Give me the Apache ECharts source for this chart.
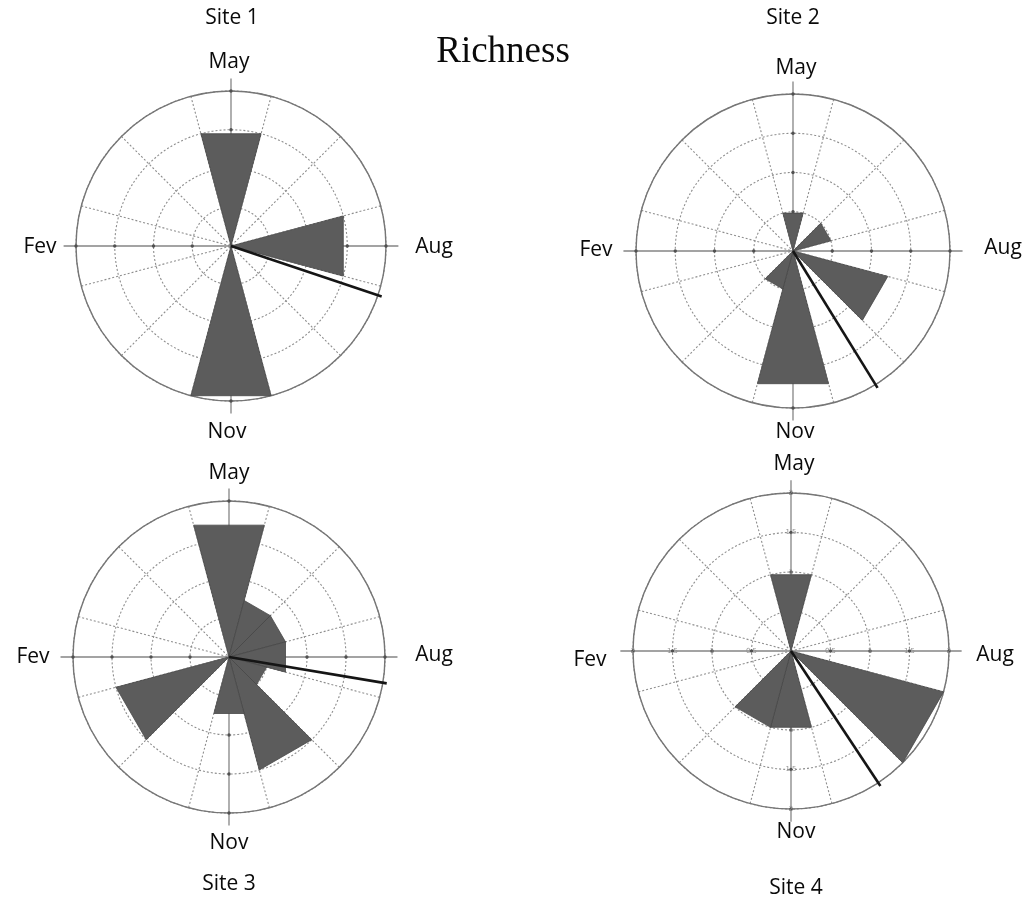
<!DOCTYPE html>
<html>
<head>
<meta charset="utf-8">
<title>Richness</title>
<script src="https://cdn.jsdelivr.net/npm/echarts@6/dist/echarts.min.js"></script>
<style>
  html, body { margin: 0; padding: 0; background: #fff; }
  #chart { width: 1024px; height: 902px; }
</style>
</head>
<body>
<div id="chart"></div>
<script>
// Monthly richness per site, months ordered clockwise starting at May (top)
const months = ['May', 'Jun', 'Jul', 'Aug', 'Sep', 'Oct', 'Nov', 'Dec', 'Jan', 'Fev', 'Mar', 'Apr'];
const site1 = [3, 0, 0, 3, 0, 0, 4, 0, 0, 0, 0, 0];
const site2 = [1, 0, 1, 0, 2.5, 0, 3.5, 1, 0, 0, 0, 0];
const site3 = [3.5, 1.5, 1.5, 1.5, 1, 3, 1.5, 0, 3, 0, 0, 0];
const site4 = [1, 0, 0, 0, 2, 0, 1, 1, 0, 0, 0, 0];

// Mean vector direction of each site, degrees clockwise from May
const meanBearing = [108.5, 148.3, 99.5, 146.5];

// Radial rings
const rings = [1, 2, 3, 4];
const rings4 = [0.5, 1, 1.5, 2];
const ringLabels4 = ['0.5', '1', '1.5', '2'];

const siteNames = ['Site 1', 'Site 2', 'Site 3', 'Site 4'];
const compassMonths = ['May', 'Aug', 'Nov', 'Fev'];

const siteValues = [site1, site2, site3, site4];
const siteRings = [rings, rings, rings, rings4];

// Layout of the four rose panels
const panels = [
  { center: [231, 246], radius: 155 },
  { center: [793, 251], radius: 157 },
  { center: [229, 657], radius: 156 },
  { center: [791, 651], radius: 158 }
];

// Angle axis: 0..360 with boundaries every 30 deg; month i spans [30i, 30i+30]
const START = 105;
const monthCenter = i => i * 30 + 15;
const bearingToAngle = b => b + 15;

const gridGrey = '#8e8e8e';
const dashed = [2, 2];

const polar = [], angleAxis = [], radiusAxis = [], series = [];

panels.forEach((p, k) => {
  const rMax = siteRings[k][siteRings[k].length - 1];
  const step = siteRings[k][0];
  polar.push({ center: p.center, radius: p.radius });
  angleAxis.push({
    polarIndex: k, type: 'value', min: 0, max: 360, interval: 30,
    startAngle: START, clockwise: true,
    axisLine: { show: true, lineStyle: { color: '#767676', width: 1.4 } },
    axisTick: { show: false }, axisLabel: { show: false },
    splitLine: { show: true, lineStyle: { color: gridGrey, width: 1.1, type: dashed } }
  });
  radiusAxis.push({
    polarIndex: k, type: 'value', min: 0, max: rMax, interval: step,
    axisLine: { show: false }, axisTick: { show: false }, axisLabel: { show: false },
    splitLine: { show: true, lineStyle: { color: gridGrey, width: 1.1, type: dashed } }
  });

  // Solid cross axes through May/Aug/Nov/Fev
  const cardinal = [0, 3, 6, 9].map(i => [rMax * 1.08, monthCenter(i)]);
  series.push({
    type: 'custom', coordinateSystem: 'polar', polarIndex: k, z: 1, silent: true,
    data: cardinal,
    renderItem: (params, api) => {
      const a = api.value(1);
      const c = api.coord([0, a]);
      const e = api.coord([api.value(0), a]);
      return { type: 'line', shape: { x1: c[0], y1: c[1], x2: e[0], y2: e[1] },
               style: { stroke: '#858585', lineWidth: 1.3 } };
    }
  });

  // Ring tick marks on the cross axes
  const tickData = siteRings[k].map((t, j) => [t, j]);
  series.push({
    type: 'custom', coordinateSystem: 'polar', polarIndex: k, z: 2, silent: true,
    data: tickData,
    renderItem: (params, api) => {
      const t = api.value(0);
      const children = [];
      [0, 3, 6, 9].forEach(i => {
        const pt = api.coord([t, monthCenter(i)]);
        children.push({ type: 'circle', shape: { cx: pt[0], cy: pt[1], r: 1.7 },
                        style: { fill: '#505050' } });
        if (k === 3) {
          children.push({ type: 'text', x: pt[0], y: pt[1],
            style: { text: ringLabels4[api.value(1)], fill: '#909090', fontSize: 7,
                     fontFamily: 'DejaVu Sans', align: 'center', verticalAlign: 'middle' } });
        }
      });
      return { type: 'group', children };
    }
  });

  // Monthly wedges with straight outer edges
  series.push({
    type: 'custom', coordinateSystem: 'polar', polarIndex: k, z: 3, silent: true,
    name: siteNames[k],
    data: siteValues[k].map((v, i) => [v, i]),
    renderItem: (params, api) => {
      const v = api.value(0), i = api.value(1);
      if (!v) return null;
      const c = api.coord([0, i * 30]);
      const p0 = api.coord([v, i * 30]);
      const p1 = api.coord([v, i * 30 + 30]);
      return { type: 'polygon', shape: { points: [c, p0, p1] },
               style: { fill: '#5c5c5c', stroke: '#484848', lineWidth: 0.8 } };
    }
  });

  // Mean vector direction
  series.push({
    type: 'custom', coordinateSystem: 'polar', polarIndex: k, z: 4, silent: true,
    data: [[rMax * 1.025, bearingToAngle(meanBearing[k])]],
    renderItem: (params, api) => {
      const a = api.value(1);
      const c = api.coord([0, a]);
      const e = api.coord([api.value(0), a]);
      return { type: 'line', shape: { x1: c[0], y1: c[1], x2: e[0], y2: e[1] },
               style: { stroke: '#151515', lineWidth: 2.6 } };
    }
  });
});

// Text placement
const labelFont = '"Open Sans", "Liberation Sans", sans-serif';
const textPos = [
  { site: [232, 18], May: [229, 62], Aug: [434, 247], Nov: [227, 432], Fev: [40, 247] },
  { site: [793, 18], May: [796, 68], Aug: [1003, 248], Nov: [795, 432], Fev: [596, 250] },
  { site: [229, 884], May: [229, 473], Aug: [434, 655], Nov: [229, 843], Fev: [33, 657] },
  { site: [796, 888], May: [794, 464], Aug: [995, 655], Nov: [796, 832], Fev: [590, 660] }
];
const graphic = [];
const addText = (text, pos, size, family) => graphic.push({
  type: 'text', x: pos[0], y: pos[1], silent: true,
  style: { text, fill: '#0a0a0a', fontSize: size, fontFamily: family,
           align: 'center', verticalAlign: 'middle' }
});
textPos.forEach((t, k) => {
  addText(siteNames[k], t.site, 21, labelFont);
  compassMonths.forEach(m => addText(m, t[m], 21, labelFont));
});
addText('Richness', [503, 52], 37, '"Liberation Serif", "DejaVu Serif", serif');

const chart = echarts.init(document.getElementById('chart'), null, { renderer: 'canvas' });
chart.setOption({
  backgroundColor: '#ffffff',
  animation: false,
  polar, angleAxis, radiusAxis, series, graphic
});
</script>
</body>
</html>
